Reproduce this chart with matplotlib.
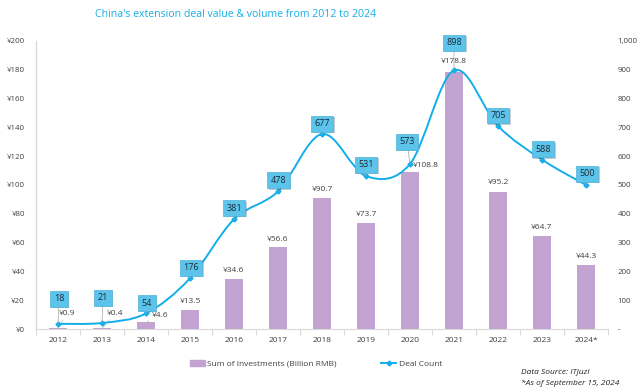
import numpy as np
import matplotlib
matplotlib.use("Agg")
import matplotlib.pyplot as plt
import matplotlib.patheffects as pe
from matplotlib.path import Path
from matplotlib.patches import PathPatch, Patch
from matplotlib.lines import Line2D
from matplotlib.ticker import FuncFormatter, FixedLocator

plt.rcParams['font.family'] = ['Open Sans', 'DejaVu Sans']

years = ["2012", "2013", "2014", "2015", "2016", "2017", "2018", "2019", "2020",
         "2021", "2022", "2023", "2024*"]
investments = [0.9, 0.4, 4.6, 13.5, 34.6, 56.6, 90.7, 73.7, 108.8, 178.8, 95.2, 64.7, 44.3]
deal_counts = [18, 21, 54, 176, 381, 478, 677, 531, 573, 898, 705, 588, 500]

# label offsets (points) - styling only
count_off = [(0.7, 18), (0.7, 18), (0.7, 7.5), (0.7, 7.5), (0, 8), (0.5, 8), (0, 7.5), (0, 8),
             (-2.2, 16), (0, 20), (0, 7.5), (0.7, 7.5), (0.7, 8)]
inv_off = [(6.5, 10), (9.4, 10.5), (10, 5), (0, 6), (0, 6), (0, 6), (0, 6.5), (0, 6),
           (11.5, 5), (0, 7), (0, 6.5), (0, 6), (0, 6)]

BAR = '#c3a3d1'
LINE = '#12aeea'
BOX = '#5cc3ea'
TXT = '#404040'

fig = plt.figure(figsize=(6.4, 3.9), dpi=100)
ax = fig.add_axes([0.05625, 0.1564, 0.89375, 0.7385])
ax2 = ax.twinx()

x = np.arange(len(years))
ax.bar(x, investments, width=0.41, color=BAR, zorder=2)
ax.set_ylim(0, 200)
ax.set_xlim(-0.5, len(years) - 0.5)
ax.set_yticks(np.arange(0, 201, 20))
ax.yaxis.set_major_formatter(FuncFormatter(lambda v, p: f"¥{int(v)}"))
ax.set_xticks(x)
ax.set_xticklabels(years)
ax.xaxis.set_minor_locator(FixedLocator(np.arange(-0.5, len(years), 1)))
ax.tick_params(axis='x', which='major', length=0, labelsize=6, colors=TXT, pad=6)
ax.tick_params(axis='x', which='minor', length=4, color='#d9d9d9', width=0.8)
ax.tick_params(axis='y', length=0, labelsize=5.7, colors=TXT, pad=8)
for s in ['top', 'right']:
    ax.spines[s].set_visible(False)
ax.spines['left'].set_color('#d9d9d9')
ax.spines['bottom'].set_color('#d9d9d9')
ax.spines['left'].set_linewidth(1.0)

ax2.set_ylim(0, 1000)
ax2.set_yticks(np.arange(0, 1001, 100))
ax2.yaxis.set_major_formatter(FuncFormatter(lambda v, p: '-' if v == 0 else f"{int(v):,}"))
ax2.tick_params(axis='y', length=0, labelsize=5.7, colors=TXT, pad=7)
for s in ax2.spines.values():
    s.set_visible(False)

# smoothed line (cardinal/Bezier like Excel smoothing)
P = np.column_stack([x, deal_counts]).astype(float)
n = len(P)
verts = [P[0]]
codes = [Path.MOVETO]
for i in range(n - 1):
    p0 = P[i - 1] if i > 0 else P[i]
    p1 = P[i]
    p2 = P[i + 1]
    p3 = P[i + 2] if i + 2 < n else P[i + 1]
    c1 = p1 + (p2 - p0) / 6.0
    c2 = p2 - (p3 - p1) / 6.0
    verts += [c1, c2, p2]
    codes += [Path.CURVE4] * 3
ax2.add_patch(PathPatch(Path(verts, codes), facecolor='none', edgecolor=LINE, lw=1.4, zorder=3))
ax2.plot(x, deal_counts, linestyle='none', marker='D', markersize=2.5, color=LINE, zorder=4)

for i, v in enumerate(deal_counts):
    t = ax2.annotate(f"{v}", xy=(i, v), xytext=count_off[i], textcoords='offset points',
                     ha='center', va='center', fontsize=6.5, color='#1d2b36',
                     bbox=dict(boxstyle='square,pad=0.38', fc=BOX, ec='#4fb3da', lw=0.5),
                     arrowprops=dict(arrowstyle='-', color='#a6a6a6', lw=0.5, shrinkA=0, shrinkB=0),
                     zorder=6)
    t.get_bbox_patch().set_path_effects([pe.SimplePatchShadow(offset=(1, -1), alpha=0.25),
                                         pe.Normal()])

for i, v in enumerate(investments):
    dx, dy = inv_off[i]
    ax.annotate(f"¥{v}", xy=(i, v), xytext=(dx, dy), textcoords='offset points',
                ha='center', va='center', fontsize=6, color=TXT, zorder=5,
                arrowprops=(dict(arrowstyle='-', color='#bfbfbf', lw=0.5, shrinkA=0, shrinkB=0)
                            if dx != 0 and i < 3 else None))

fig.text(0.148, 0.962, "China's extension deal value & volume from 2012 to 2024",
         fontsize=7.6, color='#17aee8', ha='left', va='center')

leg = fig.legend(handles=[Patch(color=BAR, label='Sum of Investments (Billion RMB)'),
                          Line2D([0], [0], color=LINE, lw=1.4, marker='D', markersize=2.5,
                                 label='Deal Count')],
                 loc='center left', bbox_to_anchor=(0.285, 0.067), ncol=2, frameon=False,
                 fontsize=6, columnspacing=5.3, handlelength=1.8, handletextpad=0.3)
for t in leg.get_texts():
    t.set_color(TXT)

fig.text(0.814, 0.046, "Data Source: ITjuzi", fontsize=6, style='italic', color='#222222',
         ha='left', va='center')
fig.text(0.814, 0.018, "*As of September 15, 2024", fontsize=6, style='italic', color='#222222',
         ha='left', va='center')

fig.savefig('out.png', dpi=100)
